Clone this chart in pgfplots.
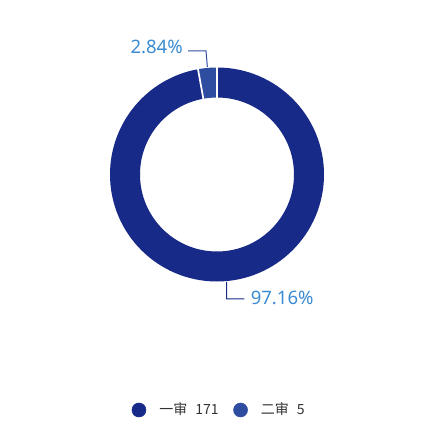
\documentclass[border=0pt]{standalone}
\usepackage{pgfplots}
\usepackage{pgfplotstable}
\pgfplotsset{compat=1.18}
\usepackage{fontspec}
\setmainfont{Noto Sans}
\newfontfamily\cjk{Noto Sans CJK SC}

\definecolor{sliceA}{HTML}{172A88}
\definecolor{sliceB}{HTML}{2E4CA0}
\definecolor{labelblue}{HTML}{3A8BD2}
\definecolor{legendtext}{HTML}{333333}

% case counts per trial stage
\pgfplotstableread{
stage value
first 171
second 5
}\cases

\begin{document}
\begin{tikzpicture}
\pgfplotstablegetelem{0}{value}\of\cases \let\va\pgfplotsretval
\pgfplotstablegetelem{1}{value}\of\cases \let\vb\pgfplotsretval
\pgfmathsetmacro\total{\va+\vb}
\pgfmathsetmacro\fracA{\va/\total}
\pgfmathsetmacro\fracB{\vb/\total}
\pgfmathsetmacro\angA{360*\fracA}
\pgfmathsetmacro\endA{90-\angA}
\pgfmathsetmacro\midA{90-\angA/2}
\pgfmathsetmacro\midB{90-\angA-180*\fracB}
\def\cx{217}\def\cy{262.5}
\begin{axis}[
  scale only axis, width=324.75pt, height=327.75pt,
  xmin=0, xmax=433, ymin=0, ymax=437,
  axis lines=none, clip=false,
  legend columns=2,
  legend style={at={(axis cs:131.7,27)}, anchor=west, draw=none, fill=none,
    inner sep=0pt, outer sep=0pt,
    nodes={inner sep=0pt, text=legendtext, font=\cjk\fontsize{10.5}{12}\selectfont}},
]
% ring segments, clockwise from twelve o'clock
\draw[sliceA, line width=22.5pt] (axis cs:\cx,\cy) ++(90:69pt)
  arc[start angle=90, end angle=\endA, radius=69pt];
\draw[sliceB, line width=22.5pt] (axis cs:\cx,\cy) ++(\endA:69pt)
  arc[start angle=\endA, end angle=-270, radius=69pt];
% white borders between segments
\draw[white, line width=1.3pt] (axis cs:\cx,\cy) ++(90:56pt) -- ++(90:26pt);
\draw[white, line width=1.3pt] (axis cs:\cx,\cy) ++(\endA:56pt) -- ++(\endA:26pt);
% percentage labels with leader lines
\draw[sliceA, line width=0.75pt] (axis cs:\cx,\cy) ++(\midA:81pt)
  -- (axis cs:226.7,138) -- (axis cs:244.3,138);
\node[anchor=west, inner sep=0pt, text=labelblue, font=\fontsize{13.9}{16}\selectfont]
  at (axis cs:250.5,139) {97.16\%};
\draw[sliceB, line width=0.75pt] (axis cs:\cx,\cy) ++(\midB:81pt)
  -- (axis cs:206,386) -- (axis cs:188,386);
\node[anchor=east, inner sep=0pt, text=labelblue, font=\fontsize{13.9}{16}\selectfont]
  at (axis cs:183,390) {2.84\%};
% legend
\addlegendimage{legend image code/.code={\path[draw=none] (0pt,0pt) -- (20.5pt,0pt);
  \fill[sliceA] (5.25pt,0pt) circle (5.25pt);}}
\addlegendentry{一审\hspace{6pt}171\rule{11pt}{0pt}}
\addlegendimage{legend image code/.code={\path[draw=none] (0pt,0pt) -- (20.5pt,0pt);
  \fill[sliceB] (5.25pt,0pt) circle (5.25pt);}}
\addlegendentry{二审\hspace{6pt}5}
\end{axis}
\pgfresetboundingbox
\path (0,0) rectangle (324.75pt,327.75pt);
\end{tikzpicture}
\end{document}
